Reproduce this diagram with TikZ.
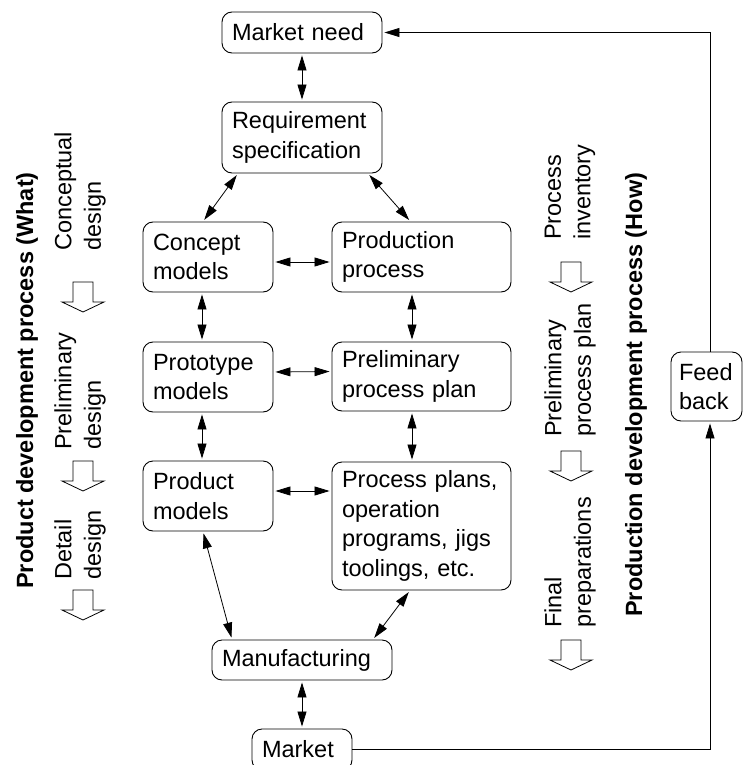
\documentclass[tikz,border=0pt]{standalone}
\usepackage{fontspec}
\setmainfont{Liberation Sans}
\usetikzlibrary{arrows.meta}
\tikzset{
  every node/.style={font=\fontsize{23.5pt}{29.5pt}\selectfont},
  box/.style={draw, rounded corners=10pt, line width=0.9pt, align=left, inner xsep=10pt, inner ysep=0pt},
  dbl/.style={{Triangle[length=15pt,width=9pt]}-{Triangle[length=15pt,width=9pt]}, line width=0.8pt, shorten >=2pt, shorten <=2pt},
  sgl/.style={-{Triangle[length=15pt,width=9pt]}, line width=0.8pt, shorten >=2pt},
  rot/.style={rotate=90, align=left, inner sep=0pt},
  hollowarrow/.pic={\draw[line width=0.8pt, fill=white] (-10,0) -- (-10,20) -- (-21,20) -- (0,30) -- (21,20) -- (10,20) -- (10,0) -- cycle;}
}
\begin{document}
\begin{tikzpicture}[x=1pt,y=-1pt]
\useasboundingbox (0,0) rectangle (743,765);
\clip (0,0) rectangle (743,765);
% boxes
\node[box, minimum width=160pt, text width=140pt, minimum height=41pt] (need) at (302,32.5) {Market need};
\node[box, minimum width=160pt, text width=140pt, minimum height=71pt] (req) at (302,137.5) {Requirement\\specification};
\node[box, minimum width=130pt, text width=110pt, minimum height=70pt] (concept) at (208,257) {Concept\\models};
\node[box, minimum width=179pt, text width=159pt, minimum height=70pt] (prod) at (421.5,257) {Production\\process};
\node[box, minimum width=130pt, text width=110pt, minimum height=70pt] (proto) at (208,377) {Prototype\\models};
\node[box, minimum width=179pt, text width=159pt, minimum height=69pt] (prelim) at (421.5,376.5) {Preliminary\\process plan};
\node[box, minimum width=130pt, text width=110pt, minimum height=70pt] (product) at (208,496) {Product\\models};
\node[box, minimum width=179pt, text width=159pt, minimum height=128pt] (plans) at (421.5,526) {Process plans,\\operation\\programs, jigs\\toolings, etc.};
\node[box, minimum width=180pt, text width=160pt, minimum height=40pt] (manuf) at (302,660) {Manufacturing};
\node[box, minimum width=100pt, text width=80pt, minimum height=41pt] (market) at (302,749.5) {Market};
\node[box, minimum width=71pt, text width=55pt, inner xsep=8pt, minimum height=69pt] (feed) at (706.5,386.5) {Feed\\back};
% connectors
\draw[dbl] (need.south) -- (req.north);
\draw[dbl] ([xshift=-64pt]req.south) -- ([xshift=-5pt]concept.north);
\draw[dbl] ([xshift=66pt]req.south) -- ([xshift=-11pt]prod.north);
\draw[dbl] ([yshift=-5pt]concept.east) -- ([yshift=-5pt]prod.west);
\draw[dbl] ([yshift=5pt]proto.east) -- ([yshift=5pt]prelim.west);
\draw[dbl] ([yshift=5pt]product.east) -- ([yshift=35pt]plans.west);
\draw[dbl] ([xshift=-6pt]concept.south) -- ([xshift=-6pt]proto.north);
\draw[dbl] ([xshift=-6pt]proto.south) -- ([xshift=-6pt]product.north);
\draw[dbl] ([xshift=-9.5pt]prod.south) -- ([xshift=-9.5pt]prelim.north);
\draw[dbl] ([xshift=-9.5pt]prelim.south) -- ([xshift=-9.5pt]plans.north);
\draw[dbl] ([xshift=-5pt]product.south) -- ([xshift=-70pt]manuf.north);
\draw[dbl] ([xshift=-11.5pt]plans.south) -- ([xshift=71pt]manuf.north);
\draw[dbl] (manuf.south) -- (market.north);
\draw[sgl] (market.east) -| ([xshift=3.5pt]feed.south);
\draw[sgl] ([xshift=3.5pt]feed.north) |- (need.east);
% side labels
\node[rot, anchor=west] (lc) at (80,251) {Conceptual\\design};
\node[rot, anchor=west] (lp) at (80,450) {Preliminary\\design};
\node[rot, anchor=west] (ld) at (80,580) {Detail\\design};
\node[rot, anchor=west] (rc) at (570,240) {Process\\inventory};
\node[rot, anchor=west] (rp) at (570,437) {Preliminary\\process plan};
\node[rot, anchor=west] (rf) at (570,628) {Final\\preparations};
\node[rotate=90, inner sep=0pt, anchor=base west, font=\fontsize{23.5pt}{29.5pt}\selectfont\bfseries] (lt) at (33,589) {Product development process (What)};
\node[rotate=90, inner sep=0pt, anchor=base west, font=\fontsize{23.5pt}{29.5pt}\selectfont\bfseries] (rt) at (642,617) {Production development process (How)};
% hollow arrows
\pic at (83,282) {hollowarrow};
\pic at (83,461) {hollowarrow};
\pic at (83,590) {hollowarrow};
\pic at (571,262) {hollowarrow};
\pic at (571,451) {hollowarrow};
\pic at (571,640) {hollowarrow};
\end{tikzpicture}
\end{document}
